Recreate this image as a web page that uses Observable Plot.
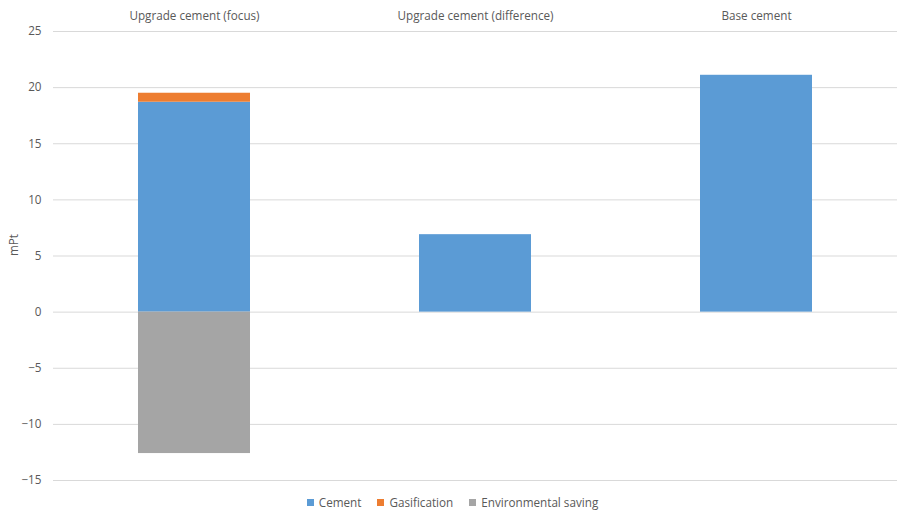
<!DOCTYPE html>
<html>
<head>
<meta charset="utf-8">
<script src="https://cdn.jsdelivr.net/npm/d3@7"></script>
<script src="https://cdn.jsdelivr.net/npm/@observablehq/plot@0.6"></script>
<style>
  html, body { margin: 0; padding: 0; background: #fff; }
  body { width: 897px; height: 512px; overflow: hidden; font-family: "Open Sans", sans-serif; }
  #legend { display: flex; justify-content: center; gap: 16px; font-size: 11.7px; color: #595959; margin-top: 2px; padding-left: 8px; }
  #legend .item { display: flex; align-items: center; gap: 5px; }
  #legend .sw { width: 7px; height: 7px; display: inline-block; }
</style>
</head>
<body>
<div id="chart"></div>
<div id="legend"></div>
<script>
// Scenario categories along the top axis
const categories = ["Upgrade cement (focus)", "Upgrade cement (difference)", "Base cement"];
// Contribution series, in stacking order
const series = ["Cement", "Gasification", "Environmental saving"];
const colors = ["#5B9BD5", "#ED7D31", "#A5A5A5"];
// Values in mPt per category
const cement = [18.7, 6.9, 21.1];
const gasification = [0.8, 0, 0];
const environmentalSaving = [-12.6, 0, 0];
const yTicks = [-15, -10, -5, 0, 5, 10, 15, 20, 25];

const seriesValues = [cement, gasification, environmentalSaving];
const rows = [];
series.forEach((s, si) => {
  categories.forEach((c, ci) => {
    const v = seriesValues[si][ci];
    if (v !== 0) rows.push({category: c, series: s, value: v});
  });
});

const chart = Plot.plot({
  width: 897,
  height: 492,
  marginTop: 31,
  marginBottom: 12,
  marginLeft: 53,
  marginRight: 0,
  style: {fontFamily: "'Open Sans', sans-serif", fontSize: "11.7px", color: "#595959", background: "#fff"},
  x: {domain: categories, paddingInner: 0.6, paddingOuter: 0.3, axis: "top", label: null, tickSize: 0, tickPadding: 12},
  y: {domain: [-15, 25], ticks: yTicks, label: null, tickSize: 0, tickPadding: 12},
  color: {domain: series, range: colors},
  marks: [
    Plot.gridY(yTicks, {stroke: "#d9d9d9", strokeOpacity: 1, strokeWidth: 1}),
    Plot.barY(rows, {x: "category", y: "value", fill: "series", order: series}),
    Plot.text(["mPt"], {frameAnchor: "left", dx: -39, rotate: -90, fontSize: 11.7, fill: "#595959"})
  ]
});
document.getElementById("chart").appendChild(chart);

// Legend below the plot
const legend = document.getElementById("legend");
series.forEach((s, i) => {
  const item = document.createElement("span");
  item.className = "item";
  const sw = document.createElement("span");
  sw.className = "sw";
  sw.style.background = colors[i];
  item.appendChild(sw);
  item.appendChild(document.createTextNode(s));
  legend.appendChild(item);
});
</script>
</body>
</html>
